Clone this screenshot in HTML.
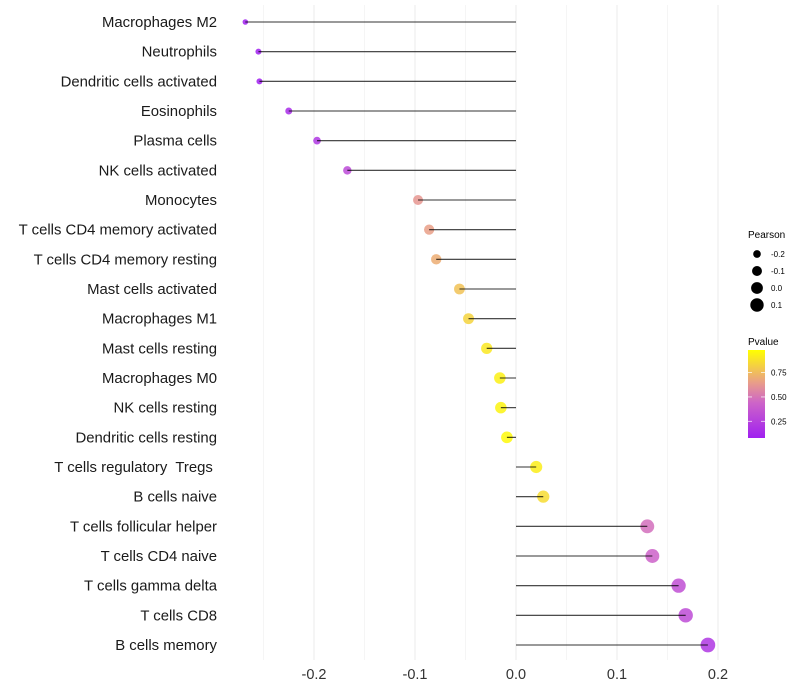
<!DOCTYPE html>
<html><head><meta charset="utf-8"><style>
body{margin:0;background:#fff;}
svg{font-family:"Liberation Sans",sans-serif;display:block;}
text{white-space:pre;}
</style></head><body>
<svg id="chart" width="800" height="700"></svg>
<script>
const categories=["Macrophages M2","Neutrophils","Dendritic cells activated","Eosinophils","Plasma cells","NK cells activated","Monocytes","T cells CD4 memory activated","T cells CD4 memory resting","Mast cells activated","Macrophages M1","Mast cells resting","Macrophages M0","NK cells resting","Dendritic cells resting","T cells regulatory  Tregs ","B cells naive","T cells follicular helper","T cells CD4 naive","T cells gamma delta","T cells CD8","B cells memory"];
const pearson=[-0.268,-0.255,-0.254,-0.225,-0.197,-0.167,-0.097,-0.086,-0.079,-0.056,-0.047,-0.029,-0.016,-0.015,-0.009,0.020,0.027,0.130,0.135,0.161,0.168,0.190];
const pvalue=[0.03,0.05,0.05,0.14,0.2,0.3,0.62,0.65,0.7,0.77,0.83,0.9,0.93,0.94,0.96,0.92,0.86,0.48,0.43,0.33,0.31,0.2];
const xTicks=[-0.2,-0.1,0.0,0.1,0.2];
const xTickLabels=["-0.2","-0.1","0.0","0.1","0.2"];
const sizeLegend=[-0.2,-0.1,0.0,0.1];
const sizeLegendLabels=["-0.2","-0.1","0.0","0.1"];
const pTicks=[0.25,0.5,0.75];
const pTickLabels=["0.25","0.50","0.75"];

const NS="http://www.w3.org/2000/svg";
const svg=document.getElementById('chart');
function mk(t,a,p){const e=document.createElementNS(NS,t);for(const k in a)e.setAttribute(k,a[k]);(p||svg).appendChild(e);return e;}
const x=v=>516+v*1010;
const y=i=>22+i*(623/21);
const rOf=v=>Math.sqrt(Math.max(4,9+(v+0.255)*101));
const stops=[[0,[160,32,240]],[0.4,[205,100,200]],[0.62,[232,155,140]],[1,[255,255,0]]];
function col(p){const t=Math.max(0,Math.min(1,(p-0.08)/(0.98-0.08)));
 for(let i=1;i<stops.length;i++){if(t<=stops[i][0]){const a=stops[i-1],b=stops[i];const f=(t-a[0])/(b[0]-a[0]);
 return 'rgb('+a[1].map((c,j)=>Math.round(c+(b[1][j]-c)*f)).join(',')+')';}}return 'rgb(255,255,0)';}

for(let v=-0.25;v<=0.2001;v+=0.05){const major=Math.abs(Math.round(v*100)%10)<0.5;
 const g=mk('line',{x1:x(v),x2:x(v),y1:5,y2:660,stroke:major?'#ebebeb':'#f5f5f5','stroke-width':1});
 
 }
xTicks.forEach((v,i)=>{const t=mk('text',{x:x(v),y:679,'text-anchor':'middle','font-size':14.5,fill:'#333'});t.textContent=xTickLabels[i];
 
 });

categories.forEach((c,i)=>{
 const t=mk('text',{x:217,y:y(i)+5,'text-anchor':'end','font-size':14.9,fill:'#1a1a1a'});t.textContent=c;
 
 
 const pt=mk('circle',{cx:x(pearson[i]),cy:y(i),r:rOf(pearson[i]),fill:col(pvalue[i]),'fill-opacity':0.85});
 
 
 const l=mk('line',{x1:x(0),x2:x(pearson[i]),y1:y(i),y2:y(i),stroke:'#000','stroke-width':1.1,'stroke-opacity':0.8});
 
 
});

const lt=mk('text',{x:748,y:238,'font-size':10,fill:'#000'});lt.textContent='Pearson';


sizeLegend.forEach((v,i)=>{const cy=254+i*17;
 const c=mk('circle',{cx:757,cy:cy,r:rOf(v),fill:'#000'});
 
 
 const t=mk('text',{x:771,y:cy+3,'font-size':8,fill:'#000'});t.textContent=sizeLegendLabels[i];
 
 });
const pt2=mk('text',{x:748,y:345,'font-size':10,fill:'#000'});pt2.textContent='Pvalue';


const defs=mk('defs',{});const gr=mk('linearGradient',{id:'pg',x1:0,y1:1,x2:0,y2:0},defs);
stops.forEach(s=>mk('stop',{offset:s[0],'stop-color':'rgb('+s[1].join(',')+')'},gr));
const bar=mk('rect',{x:748,y:350,width:17,height:88,fill:'url(#pg)'});


const py=p=>438-(p-0.08)/(0.98-0.08)*88;
pTicks.forEach((p,i)=>{mk('line',{x1:748,x2:752,y1:py(p),y2:py(p),stroke:'#fff','stroke-opacity':0.7});mk('line',{x1:761,x2:765,y1:py(p),y2:py(p),stroke:'#fff','stroke-opacity':0.7});
 const t=mk('text',{x:771,y:py(p)+3,'font-size':8,fill:'#000'});t.textContent=pTickLabels[i];
 
 });
</script>
</body></html>
